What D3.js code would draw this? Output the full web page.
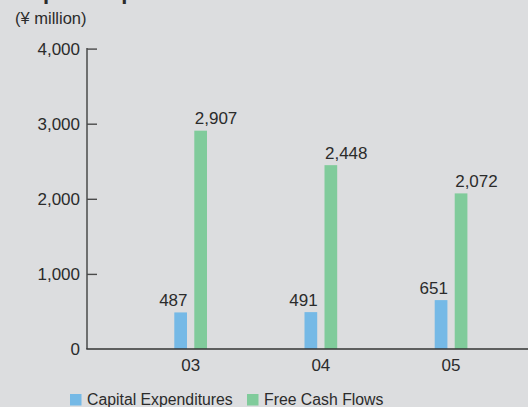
<!DOCTYPE html>
<html>
<head>
<meta charset="utf-8">
<script src="https://cdn.jsdelivr.net/npm/d3@7"></script>
<style>
  html, body { margin: 0; padding: 0; background: #dcdddf; }
  svg { display: block; font-family: "Liberation Sans", Arial, Helvetica, sans-serif; }
</style>
</head>
<body>
<svg id="chart" width="528" height="407"></svg>
<script>
// Fiscal years and the two series (¥ million)
const years = ["03", "04", "05"];
const capitalExpenditures = [487, 491, 651];
const freeCashFlows = [2907, 2448, 2072];
const yTicks = [0, 1000, 2000, 3000, 4000];
const seriesNames = ["Capital Expenditures", "Free Cash Flows"];
const seriesColors = ["#75b9e6", "#80cb9b"];

const svg = d3.select("#chart");
const W = 528, H = 407;
const textColor = "#2b2b2b";

svg.append("rect").attr("width", W).attr("height", H).attr("fill", "#dcdddf");

// Title (sits partly above the visible area)
svg.append("text")
  .attr("x", 15).attr("y", -1.5)
  .attr("font-size", 22).attr("font-weight", "bold")
  .attr("fill", textColor)
  .text("Capital Expenditures and Free Cash Flows");

svg.append("text")
  .attr("x", 15).attr("y", 24)
  .attr("font-size", 16.5)
  .attr("fill", textColor)
  .text("(¥ million)");

const y = d3.scaleLinear().domain([0, 4000]).range([349, 48.6]);
const x = d3.scaleBand().domain(years).range([87, 554.7]).paddingInner(0).paddingOuter(0.296);

// Y axis with inward ticks
const yAxis = svg.append("g")
  .attr("transform", "translate(87,0)")
  .call(d3.axisRight(y).tickValues(yTicks.filter(v => v > 0)).tickSize(10).tickFormat(""));
yAxis.select(".domain").remove();
yAxis.selectAll(".tick line").attr("stroke", "#4a4a4a").attr("stroke-width", 1.4);

svg.append("line")
  .attr("x1", 87).attr("x2", 87)
  .attr("y1", y(4000) - 0.7).attr("y2", y(0))
  .attr("stroke", "#4a4a4a").attr("stroke-width", 1.5);

svg.selectAll(".ylab").data(yTicks).enter().append("text")
  .attr("class", "ylab")
  .attr("x", 80).attr("y", d => y(d))
  .attr("dy", "0.35em")
  .attr("text-anchor", "end")
  .attr("font-size", 17)
  .attr("fill", textColor)
  .text(d => d3.format(",")(d));

// Bars
const barW = 12.7, off = 10;
const groups = svg.selectAll(".yr").data(years).enter().append("g")
  .attr("class", "yr")
  .attr("transform", d => `translate(${x(d) + x.bandwidth() / 2},0)`);

groups.append("rect")
  .attr("x", -off - barW / 2)
  .attr("width", barW)
  .attr("y", (d, i) => y(capitalExpenditures[i]))
  .attr("height", (d, i) => y(0) - y(capitalExpenditures[i]))
  .attr("fill", seriesColors[0]);

groups.append("rect")
  .attr("x", off - barW / 2)
  .attr("width", barW)
  .attr("y", (d, i) => y(freeCashFlows[i]))
  .attr("height", (d, i) => y(0) - y(freeCashFlows[i]))
  .attr("fill", seriesColors[1]);

// Value labels
groups.append("text")
  .attr("x", -off + barW / 2 + 0.5)
  .attr("y", (d, i) => y(capitalExpenditures[i]) - 6)
  .attr("text-anchor", "end")
  .attr("font-size", 17)
  .attr("fill", textColor)
  .text((d, i) => d3.format(",")(capitalExpenditures[i]));

groups.append("text")
  .attr("x", off - barW / 2 + 0.5)
  .attr("y", (d, i) => y(freeCashFlows[i]) - 6.5)
  .attr("text-anchor", "start")
  .attr("font-size", 17)
  .attr("fill", textColor)
  .text((d, i) => d3.format(",")(freeCashFlows[i]));

// X axis
svg.append("line")
  .attr("x1", 86.3).attr("x2", W)
  .attr("y1", y(0)).attr("y2", y(0))
  .attr("stroke", "#333").attr("stroke-width", 1.6);

svg.selectAll(".xlab").data(years).enter().append("text")
  .attr("class", "xlab")
  .attr("x", d => x(d) + x.bandwidth() / 2)
  .attr("y", 371)
  .attr("text-anchor", "middle")
  .attr("font-size", 17)
  .attr("fill", textColor)
  .text(d => d);

// Legend
const legendX = [70, 247];
const legend = svg.selectAll(".leg").data(seriesNames).enter().append("g")
  .attr("class", "leg")
  .attr("transform", (d, i) => `translate(${legendX[i]},394)`);
legend.append("rect")
  .attr("width", 11.5).attr("height", 11.5)
  .attr("fill", (d, i) => seriesColors[i]);
legend.append("text")
  .attr("x", 17).attr("y", 11.2)
  .attr("font-size", 15.8)
  .attr("fill", textColor)
  .text(d => d);
</script>
</body>
</html>
